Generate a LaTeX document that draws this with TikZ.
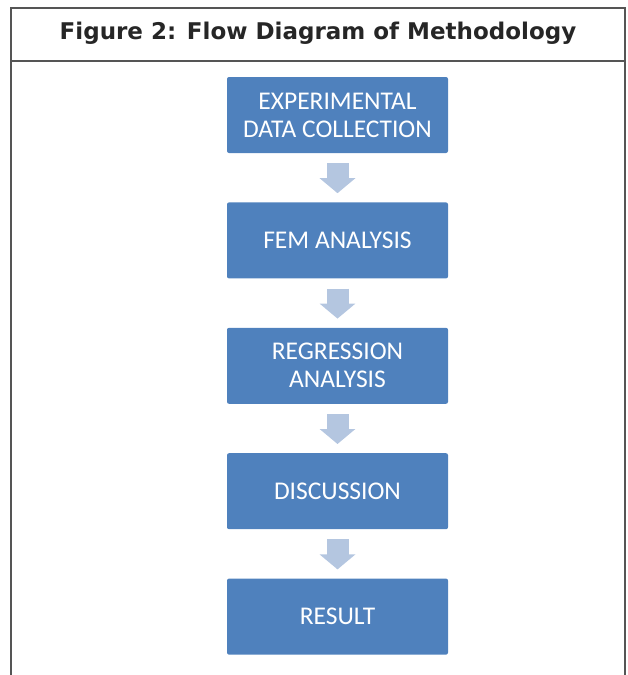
\documentclass[tikz,border=0pt]{standalone}
\usepackage{fontspec}
\setmainfont{Carlito}
\newfontfamily\headfont{DejaVu Sans}
\usetikzlibrary{arrows.meta,positioning}

\definecolor{boxblue}{RGB}{79,129,189}
\definecolor{arrowblue}{RGB}{180,198,224}
\definecolor{framegray}{RGB}{85,85,85}

\begin{document}
\begin{tikzpicture}[
  x=1pt, y=-1pt,
  node distance=49pt,
  stepbox/.style={fill=boxblue, rounded corners=2pt, align=center, text=white,
    minimum width=221pt, minimum height=76pt, font=\fontsize{25.5}{28}\selectfont},
  blockarr/.style={arrowblue, line width=22pt,
    -{Triangle[length=15pt, width=35pt]}, shorten <=10pt, shorten >=9pt}
]
\useasboundingbox (0,0) rectangle (627,675);
% frame and header
\draw[framegray, line width=1.6pt] (11,675) -- (11,8) -- (625,8) -- (625,675);
\draw[framegray, line width=1.6pt] (11,61) -- (625,61);
\node[font=\headfont\bfseries\fontsize{23}{26}\selectfont, text=black!85] (title) at (318,33)
  {Figure 2: Flow Diagram of Methodology};
% flow boxes
\node[stepbox] (exp) at (337.5,115) {EXPERIMENTAL\\DATA COLLECTION};
\node[stepbox, below=of exp] (fem) {FEM ANALYSIS};
\node[stepbox, below=of fem] (reg) {REGRESSION\\ANALYSIS};
\node[stepbox, below=of reg] (disc) {DISCUSSION};
\node[stepbox, below=of disc] (res) {RESULT};
% arrows
\draw[blockarr] (exp) -- (fem);
\draw[blockarr] (fem) -- (reg);
\draw[blockarr] (reg) -- (disc);
\draw[blockarr] (disc) -- (res);
\end{tikzpicture}
\end{document}
